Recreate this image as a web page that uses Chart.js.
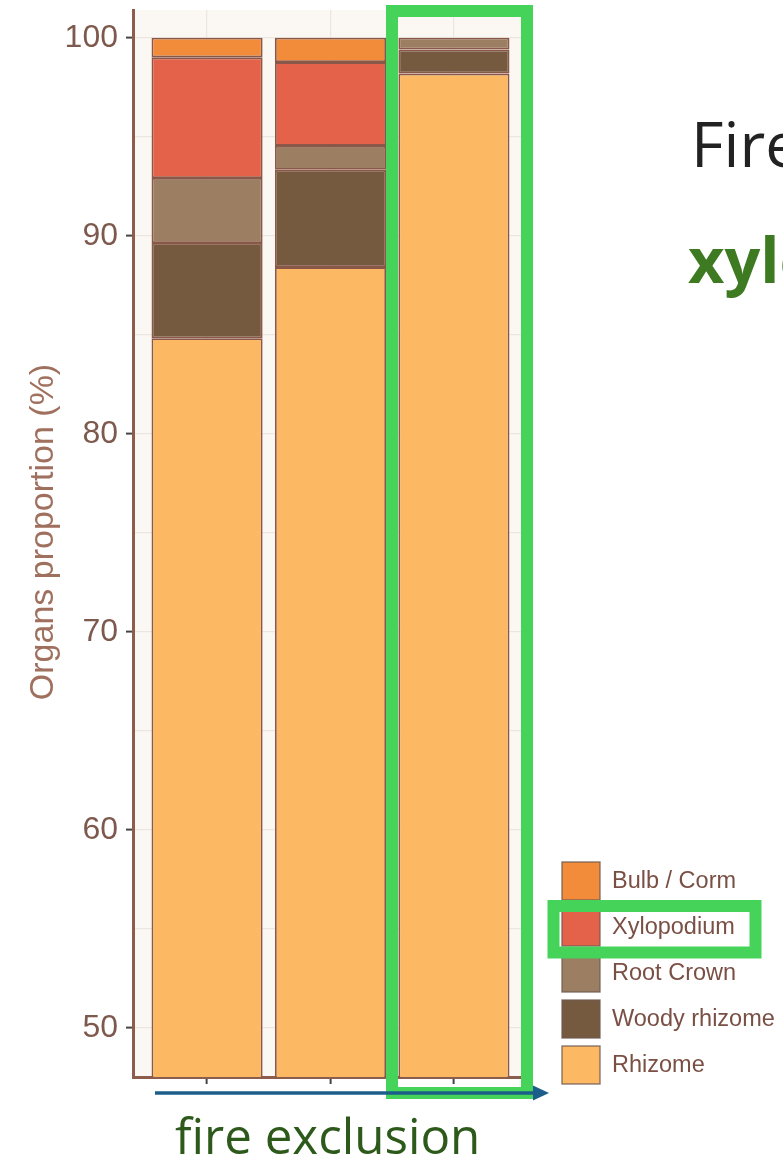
<!DOCTYPE html>
<html>
<head>
<meta charset="utf-8">
<script src="https://cdn.jsdelivr.net/npm/chart.js@4/dist/chart.umd.min.js"></script>
<style>
html,body{margin:0;padding:0;background:#fff;}
#chart{position:absolute;left:0;top:0;}
</style>
</head>
<body>
<canvas id="chart" width="783" height="1162"></canvas>
<script>

/* Data */

const xPositions=[1,2,3];

const seriesNames=["Rhizome","Woody rhizome","Root Crown","Xylopodium","Bulb / Corm"];

const rhizome=[84.83,88.42,98.19];
const woodyRhizome=[4.81,4.91,1.21];
const rootCrown=[3.28,1.21,0.60];
const xylopodium=[6.09,4.23,0];
const bulbCorm=[0.99,1.23,0];

const yTicks=[50,60,70,80,90,100];
const yGrid=[50,55,60,65,70,75,80,85,90,95,100];

const colors=["#FDB863","#765A40","#9C7F62","#E5624A","#F28C3A"];

/* Helpers */

const brown="#8c5c4c";
const tickText="#7e5a4e";

function points(arr){
return arr.map((v,i)=>({x:xPositions[i],y:v}));
}

const allSeries=[rhizome,woodyRhizome,rootCrown,xylopodium,bulbCorm];

const datasets=allSeries.map((arr,i)=>({
label:seriesNames[i],
data:points(arr),
backgroundColor:colors[i],
borderColor:"#8a5848",
borderWidth:1.8,
borderSkipped:false,
barPercentage:0.9,
categoryPercentage:1
}));

/* Drawing on top */

const panelBg={
id:"panelBg",
beforeDraw(chart){
const a=chart.chartArea, c=chart.ctx;
c.save();
c.fillStyle="#FBF7F3";
c.fillRect(a.left,a.top,a.right-a.left,a.bottom-a.top);
c.restore();
}
};

const overlay={
id:"overlay",
afterDraw(chart){
const c=chart.ctx;
c.save();

/* y axis title */
c.translate(44,532);
c.rotate(-Math.PI/2);
c.fillStyle="#a0705e";
c.font="34px 'Liberation Sans', Arial, sans-serif";
c.textAlign="center";
c.textBaseline="middle";
c.fillText("Organs proportion (%)",0,0);
c.setTransform(1,0,0,1,0,0);

/* legend */
const names=seriesNames.slice().reverse();
const cols=colors.slice().reverse();
c.font="23.5px 'Liberation Sans', Arial, sans-serif";
c.textAlign="left";
c.textBaseline="middle";
names.forEach((n,i)=>{
const y=862+i*46;
c.fillStyle=cols[i];
c.fillRect(562,y,38,38);
c.strokeStyle="rgba(110,90,80,0.8)";
c.lineWidth=1.4;
c.strokeRect(562,y,38,38);
c.fillStyle="#7a5045";
c.fillText(n,612,y+20);
});

/* green highlight boxes */
c.strokeStyle="#45D35A";
c.lineWidth=12;
c.strokeRect(392,11,135,1082);
c.strokeRect(553.5,906,202,46.5);

/* arrow */
c.strokeStyle="#1b5e8a";
c.fillStyle="#1b5e8a";
c.lineWidth=3.5;
c.beginPath();
c.moveTo(155,1093);
c.lineTo(535,1093);
c.stroke();
c.beginPath();
c.moveTo(549,1093);
c.lineTo(533,1085.5);
c.lineTo(533,1100.5);
c.closePath();
c.fill();

/* fire exclusion */
c.font="48px 'Open Sans', sans-serif";
let w=c.measureText("fire exclusion").width;
c.font=(48*305/w).toFixed(1)+"px 'Open Sans', sans-serif";
c.fillStyle="#2d5a1b";
c.textBaseline="alphabetic";
c.fillText("fire exclusion",175,1154);

/* side text */
c.font="63px 'Open Sans', sans-serif";
c.fillStyle="#222";
c.fillText("Fire",691,167);
c.font="bold 63px 'Open Sans', sans-serif";
c.fillStyle="#3d7a22";
c.fillText("xylopodium",688,283);

c.restore();
}
};

/* Chart */

const ctx=document.getElementById("chart");

const chart=new Chart(ctx,{
type:"bar",
data:{datasets:datasets},
plugins:[panelBg,overlay],
options:{
responsive:false,
animation:false,
devicePixelRatio:1,
layout:{padding:{left:0,top:10,right:255,bottom:75}},
plugins:{legend:{display:false},tooltip:{enabled:false}},
scales:{
x:{
type:"linear",
stacked:true,
offset:false,
min:0.4,
max:3.6,
afterBuildTicks:(s)=>{s.ticks=xPositions.map(v=>({value:v}));},
afterFit:(s)=>{s.height=10;s.paddingLeft=0;s.paddingRight=0;},
ticks:{callback:()=>"",padding:0},
grid:{offset:false,color:"#ECE6E0",lineWidth:1.2,tickLength:7,tickColor:"#444",tickWidth:2},
border:{display:true,color:brown,width:3}
},
y:{
stacked:true,
min:47.53,
max:101.40,
afterBuildTicks:(s)=>{s.ticks=yGrid.map(v=>({value:v}));},
afterFit:(s)=>{s.width=133;s.paddingTop=0;s.paddingBottom=0;},
ticks:{
callback:(v)=>yTicks.includes(v)?String(v):"",
color:tickText,
font:{family:"'Liberation Sans', Arial, sans-serif",size:32},
padding:8
},
grid:{
color:"#ECE6E0",
lineWidth:1.2,
tickLength:7,
tickWidth:2,
tickColor:(c)=>yTicks.includes(c.tick.value)?"#444":"rgba(0,0,0,0)"
},
border:{display:true,color:brown,width:3}
}
}
}
});

</script>
</body>
</html>
